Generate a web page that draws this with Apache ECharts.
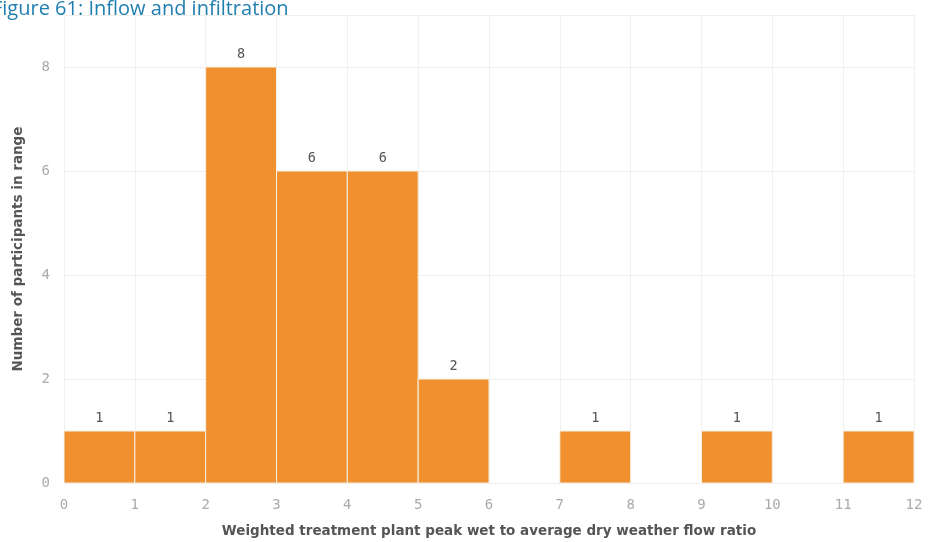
<!DOCTYPE html>
<html>
<head>
<meta charset="utf-8">
<script src="https://cdn.jsdelivr.net/npm/echarts@6/dist/echarts.min.js"></script>
<style>html,body{margin:0;padding:0;background:#fff}#c{width:933px;height:542px}</style>
</head>
<body>
<div id="c"></div>
<script>
var binStarts = [0, 1, 2, 3, 4, 5, 6, 7, 8, 9, 10, 11];
var binEnds   = [1, 2, 3, 4, 5, 6, 7, 8, 9, 10, 11, 12];
var counts    = [1, 1, 8, 6, 6, 2, 0, 1, 0, 1, 0, 1];
var xTicks    = [0, 1, 2, 3, 4, 5, 6, 7, 8, 9, 10, 11, 12];
var yTicks    = [0, 2, 4, 6, 8];

var data = [];
for (var i = 0; i < counts.length; i++) {
  if (counts[i] > 0) data.push([binStarts[i], binEnds[i], counts[i]]);
}

var chart = echarts.init(document.getElementById('c'));
chart.setOption({
  animation: false,
  title: {
    text: 'Figure 61: Inflow and infiltration',
    left: -13, top: -6,
    textStyle: { color: '#1f7eb0', fontSize: 20, fontWeight: 'normal', fontFamily: 'Open Sans' }
  },
  grid: { left: 64, right: 19, top: 15, bottom: 59, containLabel: false, outerBoundsMode: 'none' },
  xAxis: {
    type: 'value', min: 0, max: 12, interval: 1,
    name: 'Weighted treatment plant peak wet to average dry weather flow ratio',
    nameLocation: 'middle', nameGap: 41,
    nameTextStyle: { color: '#555', fontSize: 13.5, fontWeight: 'bold', fontFamily: 'DejaVu Sans' },
    axisLine: { show: false }, axisTick: { show: false },
    axisLabel: { color: '#aaa', fontSize: 14, margin: 15, fontFamily: 'DejaVu Sans Mono',
      formatter: function (v) { return xTicks.indexOf(v) >= 0 ? String(v) : ''; } },
    splitLine: { show: true, lineStyle: { color: '#f0f0f0', width: 1 } }
  },
  yAxis: {
    type: 'value', min: 0, max: 9, interval: 2,
    name: 'Number of participants in range',
    nameLocation: 'middle', nameGap: 39,
    nameTextStyle: { color: '#555', fontSize: 13.5, fontWeight: 'bold', fontFamily: 'DejaVu Sans' },
    axisLine: { show: false }, axisTick: { show: false },
    axisLabel: { color: '#aaa', fontSize: 14, margin: 14, showMaxLabel: false, fontFamily: 'DejaVu Sans Mono',
      formatter: function (v) { return yTicks.indexOf(v) >= 0 ? String(v) : ''; } },
    splitLine: { show: true, lineStyle: { color: '#eeeeee', width: 1 } }
  },
  series: [{
    type: 'custom',
    data: data,
    encode: { x: [0, 1], y: 2 },
    renderItem: function (params, api) {
      var p0 = api.coord([api.value(0), api.value(2)]);
      var p1 = api.coord([api.value(1), 0]);
      return {
        type: 'group',
        children: [{
          type: 'rect',
          shape: { x: p0[0], y: p0[1], width: p1[0] - p0[0], height: p1[1] - p0[1] },
          style: { fill: '#f0902e', stroke: '#f6f0e6', lineWidth: 1 }
        }, {
          type: 'text',
          style: {
            text: String(api.value(2)), x: (p0[0] + p1[0]) / 2, y: p0[1] - 6,
            align: 'center', verticalAlign: 'bottom',
            fill: '#555', fontSize: 13.5, fontFamily: 'DejaVu Sans Mono'
          }
        }]
      };
    }
  }]
});
</script>
</body>
</html>
